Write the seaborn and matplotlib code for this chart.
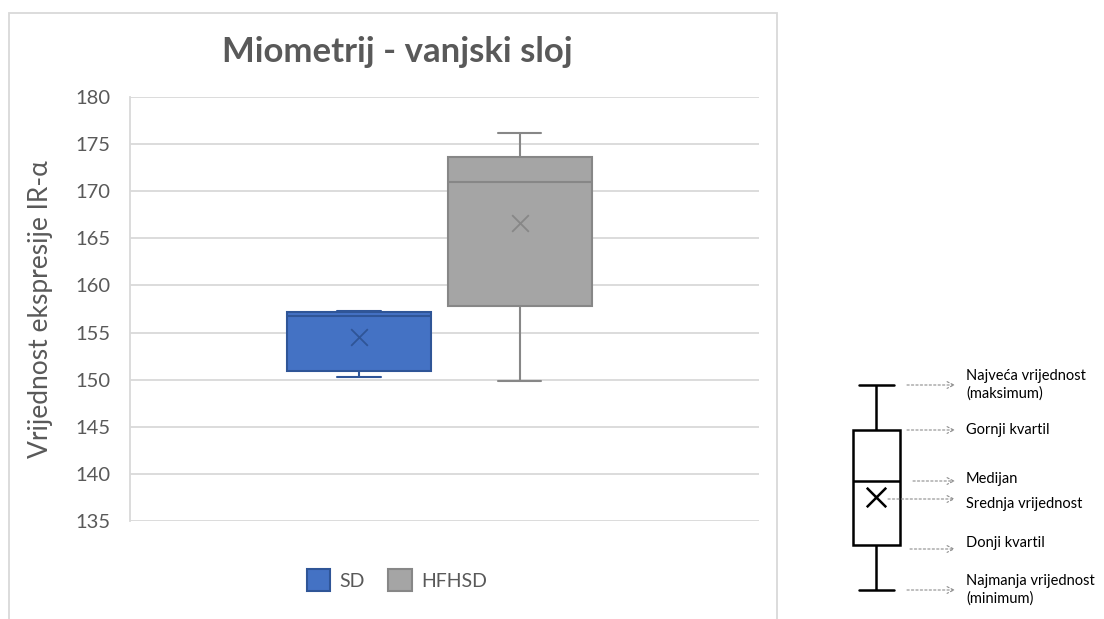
import matplotlib
matplotlib.use("Agg")
import matplotlib.pyplot as plt
from matplotlib.patches import Patch, Rectangle
import numpy as np
import pandas as pd
import seaborn as sns

# ---------------- data ----------------
groups = ["SD", "HFHSD"]
sd_values = [150.3, 150.9, 156.8, 157.15, 157.3]        # min, Q1, median, Q3, max
hfhsd_values = [149.9, 157.8, 171.0, 173.6, 176.2]
group_means = [154.5, 166.6]
y_ticks = [135, 140, 145, 150, 155, 160, 165, 170, 175, 180]

title = "Miometrij - vanjski sloj"
y_label = "Vrijednost ekspresije IR-α"

# schematic key (illustrative)
key_values = [0, 45, 109, 160, 205]
key_mean = [93]
key_labels = ["Najveća vrijednost\n(maksimum)", "Gornji kvartil", "Medijan",
              "Srednja vrijednost", "Donji kvartil", "Najmanja vrijednost\n(minimum)"]
key_label_y = [205, 160, 111, 86, 47, 0]
key_arrow_y = [205, 160, 109, 91, 41, 0]
key_arrow_x0 = [0.62, 0.62, 0.74, 0.24, 0.68, 0.62]

fill_colors = ["#4472C4", "#A5A5A5"]
edge_colors = ["#2F5597", "#878787"]
text_gray = "#595959"

# ---------------- style ----------------
sns.set_theme(style="white")
plt.rcParams["font.family"] = ["Lato", "DejaVu Sans"]

fig = plt.figure(figsize=(11.04, 6.19), dpi=100)
W, H = 1104, 619

df = pd.DataFrame({
    "cat": ["all"] * (len(sd_values) + len(hfhsd_values)),
    "group": ["SD"] * len(sd_values) + ["HFHSD"] * len(hfhsd_values),
    "value": sd_values + hfhsd_values,
})
df_mean = pd.DataFrame({"cat": ["all"] * 2, "group": groups, "value": group_means})

ax = fig.add_axes([130 / W, 1 - 521 / H, 629 / W, 424 / H])
sns.boxplot(data=df, x="cat", y="value", hue="group", hue_order=groups,
            palette=fill_colors, saturation=1, width=0.8, gap=0.1, whis=10, linewidth=1.5,
            linecolor="#555555", capwidths=0.107, ax=ax, legend=False)

# colour each box's outline to match its series
for p in ax.patches:
    verts = p.get_path().vertices
    xc = np.mean(p.get_transform().transform(verts)[:, 0])
    xd = ax.transData.inverted().transform((xc, 0))[0]
    idx = 0 if xd < 0 else 1
    p.set_edgecolor(edge_colors[idx])
for ln in ax.lines:
    xs = np.asarray(ln.get_xdata(), dtype=float)
    if xs.size:
        idx = 0 if np.nanmean(xs) < 0 else 1
        ln.set_color(edge_colors[idx])

sns.stripplot(data=df_mean, x="cat", y="value", hue="group", hue_order=groups,
              palette=edge_colors, dodge=True, jitter=False, marker="x",
              size=12, linewidth=1.3, ax=ax, legend=False)

ax.set_xlim(-0.769, 0.794)
ax.set_ylim(135, 180)
ax.set_yticks(y_ticks)
ax.set_xticks([])
ax.set_xlabel("")
ax.set_ylabel(y_label, fontsize=19, color=text_gray)
ax.yaxis.set_label_coords(-0.122, 0.5)
ax.tick_params(axis="y", length=0, pad=14, labelsize=14.5, labelcolor=text_gray)
ax.grid(axis="y", color="#D9D9D9", linewidth=1.3)
ax.set_axisbelow(True)
for s in ["top", "right", "bottom"]:
    ax.spines[s].set_visible(False)
ax.spines["left"].set_color("#D9D9D9")
ax.spines["left"].set_linewidth(1.3)

handles = [Patch(facecolor=fill_colors[i], edgecolor=edge_colors[i], linewidth=1.5, label=groups[i])
           for i in range(2)]
fig.legend(handles=handles, loc="center", bbox_to_anchor=(397 / W, 1 - 580 / H),
           ncol=2, frameon=False, fontsize=14, labelcolor=text_gray,
           handlelength=1.2, handleheight=1.3, handletextpad=0.5, columnspacing=1.2)

fig.text(397 / W, 1 - 62.5 / H, title, ha="center", va="baseline",
         fontsize=25, fontweight="bold", color=text_gray)

# chart frame
fig.patches.append(Rectangle((8.5 / W, -0.02), (776.7 - 8.5) / W, 1.02 - 12.5 / H,
                             transform=fig.transFigure, fill=False,
                             edgecolor="#D9D9D9", linewidth=1.3))

# ---------------- schematic key ----------------
kax = fig.add_axes([830 / W, 1 - 610 / H, 274 / W, 245 / H])
sns.boxplot(y=key_values, ax=kax, color="white", saturation=1, linecolor="black",
            linewidth=1.8, width=0.94, whis=10, capwidths=0.7)
for p in kax.patches:
    p.set_facecolor("white")
sns.stripplot(y=key_mean, ax=kax, marker="x", color="black", jitter=False,
              size=14, linewidth=1.8)
kax.set_xlim(-0.92, 4.56)
kax.set_ylim(-20, 225)
kax.axis("off")
for lab, ly, ay, ax0 in zip(key_labels, key_label_y, key_arrow_y, key_arrow_x0):
    kax.annotate("", xy=(1.58, ay), xytext=(ax0, ay),
                 arrowprops=dict(arrowstyle="->", color="#8C8C8C", linestyle=(0, (2, 2)),
                                 linewidth=0.8, shrinkA=0, shrinkB=0))
    kax.text(1.8, ly, lab, ha="left", va="center", fontsize=10.5, color="black",
             linespacing=1.25)

fig.savefig("out.png", dpi=100)
